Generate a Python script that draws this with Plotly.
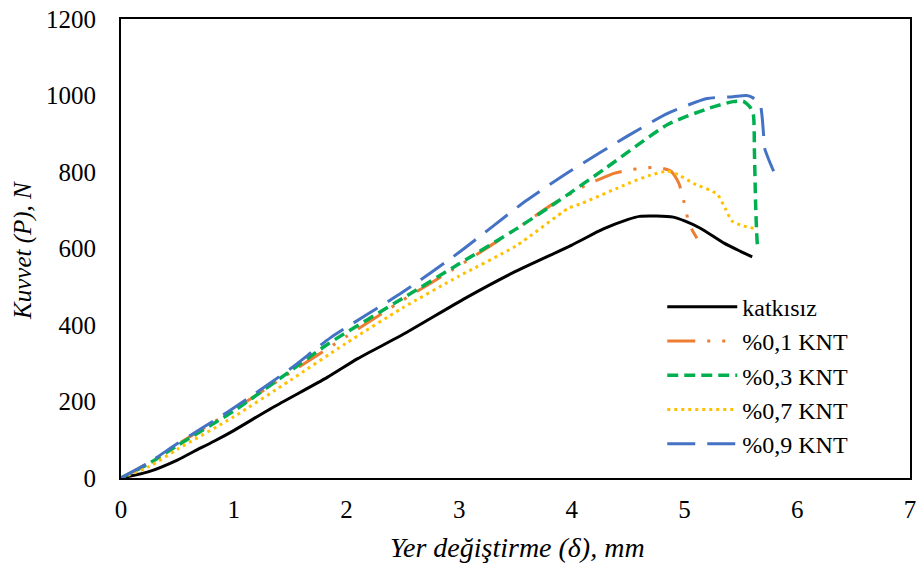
import plotly.graph_objects as go

# Data
x_katkisiz = [0, 0.24, 0.5, 0.65, 0.825, 1.0, 1.35, 1.83, 2.1, 2.5, 3.06, 3.5, 4.0, 4.28, 4.5, 4.6, 4.75, 4.9, 5.0, 5.14, 5.35, 5.5, 5.6]
y_katkisiz = [0, 16, 47, 70, 96, 124, 185, 263, 312, 375, 471, 540, 609, 651, 676, 684, 685, 682, 672, 653, 614, 592, 578]

x_knt01 = [0, 0.25, 0.5, 1.0, 1.5, 2.0, 2.5, 3.0, 3.5, 3.83, 4.03, 4.14, 4.27, 4.38, 4.5, 4.63, 4.76, 4.88, 4.95, 5.01, 5.04, 5.11]
y_knt01 = [0, 40, 88, 178, 275, 370, 465, 555, 650, 716, 750, 768, 784, 797, 805, 810, 812, 802, 770, 703, 664, 627]

x_knt03 = [0, 0.25, 0.5, 1.0, 1.47, 1.84, 2.5, 3.0, 3.5, 3.88, 4.3, 4.85, 5.2, 5.43, 5.52, 5.58, 5.61, 5.62, 5.63, 5.64, 5.65, 5.67]
y_knt03 = [0, 38, 85, 175, 273, 351, 470, 560, 650, 724, 810, 924, 965, 984, 985, 970, 950, 850, 720, 640, 605, 600]

x_knt07 = [0, 0.25, 0.5, 1.0, 1.5, 1.99, 2.5, 3.0, 3.5, 3.97, 4.09, 4.5, 4.7, 4.85, 4.95, 5.08, 5.29, 5.36, 5.42, 5.52, 5.65]
y_knt07 = [0, 30, 75, 160, 255, 351, 445, 528, 606, 705, 718, 770, 792, 802, 792, 770, 742, 705, 672, 659, 651]

x_knt09 = [0, 0.24, 0.5, 0.97, 1.5, 1.86, 2.5, 3.0, 3.59, 4.0, 4.5, 4.85, 5.2, 5.43, 5.55, 5.6, 5.67, 5.7, 5.71, 5.75, 5.79]
y_knt09 = [0, 39, 90, 177, 285, 367, 486, 590, 724, 805, 895, 953, 992, 997, 1000, 995, 976, 901, 862, 830, 802]

names = ["katkısız", "%0,1 KNT", "%0,3 KNT", "%0,7 KNT", "%0,9 KNT"]
x_ticks = [0, 1, 2, 3, 4, 5, 6, 7]
y_ticks = [0, 200, 400, 600, 800, 1000, 1200]

series = [
    (x_katkisiz, y_katkisiz, "#000000", "solid", 3),
    (x_knt01, y_knt01, "#ED7D31", "28px,12px,3px,12px,3px,12px", 3),
    (x_knt03, y_knt03, "#00B050", "11px,6px", 3.5),
    (x_knt07, y_knt07, "#FFC000", "3px,4px", 3),
    (x_knt09, y_knt09, "#4472C4", "28px,12px", 3),
]

FONT = "Liberation Serif, Times New Roman, serif"

fig = go.Figure()
for (xs, ys, col, dash, w), nm in zip(series, names):
    fig.add_trace(go.Scatter(x=xs, y=ys, mode="lines", name=nm,
                             line=dict(color=col, dash=dash, width=w, shape="spline", smoothing=0.6)))

fig.update_layout(
    width=922, height=566,
    margin=dict(l=121, r=6, t=17, b=88),
    paper_bgcolor="white", plot_bgcolor="white",
    font=dict(family=FONT, size=24, color="#000000"),
    showlegend=True,
    legend=dict(x=0.686, y=0.421, xanchor="left", yanchor="top",
                bgcolor="rgba(0,0,0,0)", itemwidth=70, tracegroupgap=0,
                font=dict(family=FONT, size=24, color="#000000")),
    xaxis=dict(range=[0, 7], tickvals=x_ticks, showgrid=False, zeroline=False,
               showline=True, mirror=True, linecolor="#000000", linewidth=2,
               ticks="", ticklabelstandoff=8, ticklabeloverflow="allow",
               tickfont=dict(size=25)),
    yaxis=dict(range=[0, 1200], tickvals=y_ticks, showgrid=False, zeroline=False,
               showline=True, mirror=True, linecolor="#000000", linewidth=2,
               ticks="", ticklabelstandoff=18, ticklabeloverflow="allow",
               tickfont=dict(size=25)),
    annotations=[
        dict(text="<i>Yer değiştirme (δ), mm</i>", xref="paper", yref="paper",
             x=0.502, y=-0.152, xanchor="center", yanchor="middle", showarrow=False,
             font=dict(family=FONT, size=28)),
        dict(text="<i>Kuvvet (P), N</i>", xref="paper", yref="paper",
             x=-0.124, y=0.495, xanchor="center", yanchor="middle", showarrow=False,
             textangle=-90, font=dict(family=FONT, size=25)),
    ],
)

fig.write_html("out.html")
